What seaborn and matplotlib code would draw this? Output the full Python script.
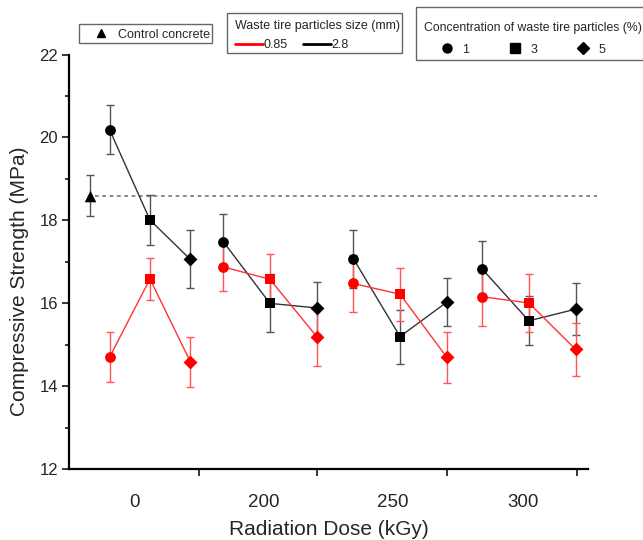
import matplotlib
matplotlib.use("Agg")
import matplotlib.pyplot as plt
from matplotlib.lines import Line2D
from matplotlib.patches import Rectangle
import seaborn as sns
import numpy as np
import pandas as pd

# ---------------- data ----------------
doses = ["0", "200", "250", "300"]
concentrations = [1, 3, 5]
sizes = ["0.85", "2.8"]

strength_085 = [[14.70, 16.59, 14.59],
                [16.88, 16.58, 15.20],
                [16.48, 16.22, 14.70],
                [16.16, 16.01, 14.89]]
error_085 = [[0.60, 0.50, 0.60],
             [0.58, 0.60, 0.70],
             [0.69, 0.64, 0.62],
             [0.70, 0.70, 0.64]]
strength_28 = [[20.19, 18.01, 17.06],
               [17.49, 16.00, 15.89],
               [17.08, 15.20, 16.03],
               [16.83, 15.58, 15.86]]
error_28 = [[0.60, 0.60, 0.70],
            [0.67, 0.70, 0.63],
            [0.70, 0.65, 0.58],
            [0.67, 0.59, 0.62]]
control_strength = 18.6
control_error = 0.5

# ---------------- layout (positions on categorical axis) ----------------
group_centers = [0.0, 0.95, 1.98, 3.0]
group_spread = [0.32, 0.37, 0.37, 0.37]
conc_offset = {1: -1, 3: 0, 5: 1}
control_x = -0.475
boundary_ticks = [0.388, 1.322, 2.352, 3.381]
label_ticks = [-0.119, 0.903, 1.924, 2.953]

rows = []
for size, vals, errs in [("0.85", strength_085, error_085), ("2.8", strength_28, error_28)]:
    for gi, d in enumerate(doses):
        for ci, c in enumerate(concentrations):
            rows.append(dict(dose=d, conc=c, size=size,
                             x=group_centers[gi] + conc_offset[c] * group_spread[gi],
                             strength=vals[gi][ci], err=errs[gi][ci]))
df = pd.DataFrame(rows)

# ---------------- style ----------------
sns.set_theme(style="white")
plt.rcParams["font.family"] = ["Liberation Sans", "DejaVu Sans"]

palette = {"0.85": "#ff0000", "2.8": "#000000"}
line_colors = {"0.85": "#ff3333", "2.8": "#333333"}
err_colors = {"0.85": "#ff5555", "2.8": "#555555"}
markers = {1: "o", 3: "s", 5: "D"}
msize = {1: 60, 3: 52, 5: 50}

W, H = 643, 540
fig = plt.figure(figsize=(W / 100, H / 100), dpi=100)
ax = fig.add_axes([69 / W, 1 - 469.3 / H, (588 - 69) / W, (469.3 - 54.5) / H])

# error bars
for size in ["2.8", "0.85"]:
    sub = df[df["size"] == size]
    ax.errorbar(sub["x"], sub["strength"], yerr=sub["err"], fmt="none",
                ecolor=err_colors[size], elinewidth=1.0, capsize=2.8, capthick=1.0,
                zorder=2)
ax.errorbar([control_x], [control_strength], yerr=[control_error], fmt="none",
            ecolor="#555555", elinewidth=1.0, capsize=2.8, capthick=1.0, zorder=2)

# lines, one per dose group and size
for size in ["2.8", "0.85"]:
    sub = df[df["size"] == size]
    sns.lineplot(data=sub, x="x", y="strength", units="dose", estimator=None,
                 color=line_colors[size], lw=1.0, sort=False, ax=ax, legend=False,
                 zorder=3)

# markers
for size in ["2.8", "0.85"]:
    for c in concentrations:
        sub = df[(df["size"] == size) & (df["conc"] == c)]
        sns.scatterplot(data=sub, x="x", y="strength", color=palette[size],
                        marker=markers[c], s=msize[c], linewidth=0, ax=ax,
                        legend=False, zorder=4)

ax.scatter([control_x], [control_strength], marker="^", s=70, color="black",
           linewidth=0, zorder=4)

# control reference line
ax.plot([control_x + 0.04, 3.54], [control_strength, control_strength],
        ls=(0, (2.2, 2.2)), color="#777777", lw=1.2, clip_on=False, zorder=1)

# axes
ax.set_xlim(-0.641, 3.468)
ax.set_ylim(12, 22)
ax.set_yticks([12, 14, 16, 18, 20, 22])
ax.set_yticks(np.arange(13, 22, 2), minor=True)
ax.set_xticks(boundary_ticks)
ax.set_xticklabels([])
ax.set_xticks(label_ticks, minor=True)
ax.set_xticklabels(doses, minor=True)
ax.tick_params(axis="x", which="minor", length=0, labelsize=13.5, pad=17.5)
ax.tick_params(axis="x", which="major", length=5, width=1.3, direction="out", bottom=True)
ax.tick_params(axis="y", which="major", length=5, width=1.3, direction="out",
               labelsize=12, pad=3, left=True)
ax.tick_params(axis="y", which="minor", length=3, width=1.3, direction="out", left=True)
for s in ["top", "right"]:
    ax.spines[s].set_visible(False)
for s in ["left", "bottom"]:
    ax.spines[s].set_linewidth(1.6)
    ax.spines[s].set_color("black")
ax.set_xlabel("Radiation Dose (kGy)", fontsize=15, labelpad=7)
ax.set_ylabel("Compressive Strength (MPa)", fontsize=15)
ax.yaxis.set_label_coords(-0.077, 0.454)
ax.grid(False)

# ---------------- legends ----------------
LS = 9.0
prop = {"size": LS}
leg_kw = dict(frameon=False, borderpad=0, borderaxespad=0, prop=prop)


def box(x0, y0, x1, y1):
    fig.patches.append(Rectangle((x0 / W, 1 - y1 / H), (x1 - x0) / W, (y1 - y0) / H,
                                 transform=fig.transFigure, facecolor="white",
                                 edgecolor="#666666", lw=1.0, zorder=0))


box(79, 24, 212, 43)
box(227, 13, 402, 53)
box(416, 7, 660, 60)

h1 = [Line2D([], [], marker="^", color="black", ls="none", markersize=6)]
leg1 = fig.legend(h1, ["Control concrete"], loc="center left",
                  bbox_to_anchor=(93 / W, 1 - 34.5 / H),
                  handlelength=1.28, handletextpad=0.72, **leg_kw)

h2 = [Line2D([], [], color="red", lw=2), Line2D([], [], color="black", lw=2)]
leg2 = fig.legend(h2, sizes, loc="upper left", bbox_to_anchor=(235 / W, 1 - 19.5 / H),
                  ncol=2, title="Waste tire particles size (mm)", title_fontproperties=prop,
                  handlelength=2.24, handletextpad=0.05, columnspacing=1.2,
                  labelspacing=0.62, **leg_kw)
leg2._legend_box.align = "left"

h3 = [Line2D([], [], marker=markers[c], color="black", ls="none", markersize=6.5)
      for c in concentrations]
leg3 = fig.legend(h3, [str(c) for c in concentrations], loc="upper left",
                  bbox_to_anchor=(424 / W, 1 - 21.5 / H), ncol=3,
                  title="Concentration of waste tire particles (%)",
                  title_fontproperties={"size": 8.8},
                  handlelength=3.68, handletextpad=-0.64, columnspacing=1.85,
                  labelspacing=0.82, **leg_kw)
leg3._legend_box.align = "left"

fig.savefig("out.png", dpi=100)
